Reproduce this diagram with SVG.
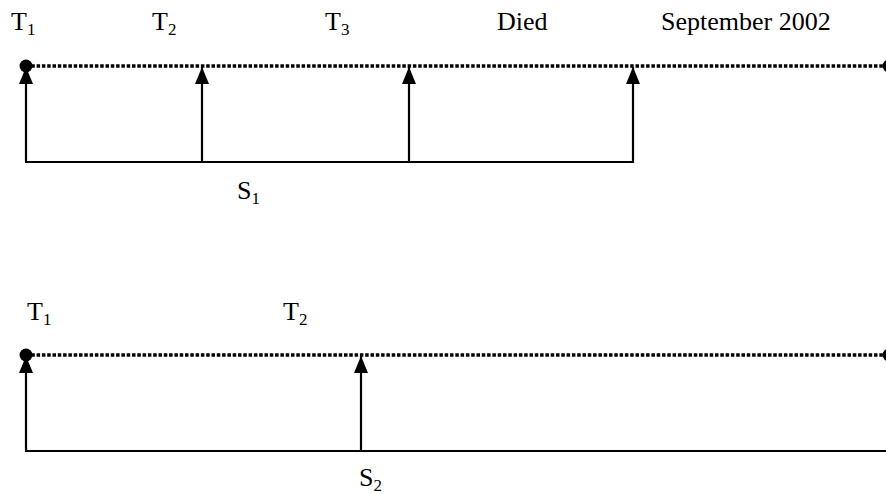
<svg xmlns="http://www.w3.org/2000/svg" width="886" height="494" viewBox="0 0 886 494">
<style>
text{font-family:"Liberation Serif","Times New Roman",serif;font-size:26px;fill:#000}
.sub{font-size:17px}
.dot{stroke:#000;stroke-width:3.5;stroke-dasharray:3.5 1.8;fill:none}
.ln{stroke:#000;stroke-width:2.2;fill:none}
</style>
<defs>
<marker id="ah" markerWidth="14" markerHeight="17" refX="7" refY="0" orient="0" markerUnits="userSpaceOnUse" viewBox="0 0 14 17">
<path d="M0,17 L7,0 L14,17 Z" fill="#000"/>
</marker>
</defs>
<rect width="886" height="494" fill="#fff"/>
<g id="connectors">
<line class="dot" x1="26" y1="66" x2="886" y2="66"/>
<line class="ln" x1="25" y1="162" x2="634" y2="162"/>
<line class="ln" x1="26" y1="162" x2="26" y2="67" marker-end="url(#ah)"/>
<line class="ln" x1="202" y1="162" x2="202" y2="67" marker-end="url(#ah)"/>
<line class="ln" x1="409" y1="162" x2="409" y2="67" marker-end="url(#ah)"/>
<line class="ln" x1="633" y1="162" x2="633" y2="67" marker-end="url(#ah)"/>
<line class="dot" x1="26" y1="355" x2="886" y2="355"/>
<line class="ln" x1="25" y1="451" x2="886" y2="451"/>
<line class="ln" x1="26" y1="451" x2="26" y2="356" marker-end="url(#ah)"/>
<line class="ln" x1="361" y1="451" x2="361" y2="356" marker-end="url(#ah)"/>
</g>
<g id="dots">
<circle cx="26" cy="66" r="6.5" fill="#000"/>
<circle cx="889" cy="66" r="6.5" fill="#000"/>
<circle cx="26" cy="355" r="6.5" fill="#000"/>
<circle cx="889" cy="355" r="6.5" fill="#000"/>
</g>
<g id="labels-top">
<text x="11" y="30">T<tspan class="sub" dy="5">1</tspan></text>
<text x="152" y="30">T<tspan class="sub" dy="5">2</tspan></text>
<text x="325" y="30">T<tspan class="sub" dy="5">3</tspan></text>
<text x="497" y="30">Died</text>
<text x="661" y="30">September 2002</text>
<text x="237" y="199">S<tspan class="sub" dy="5">1</tspan></text>
</g>
<g id="labels-bottom">
<text x="27" y="320">T<tspan class="sub" dy="5">1</tspan></text>
<text x="283" y="320">T<tspan class="sub" dy="5">2</tspan></text>
<text x="359" y="486">S<tspan class="sub" dy="5">2</tspan></text>
</g>
</svg>
